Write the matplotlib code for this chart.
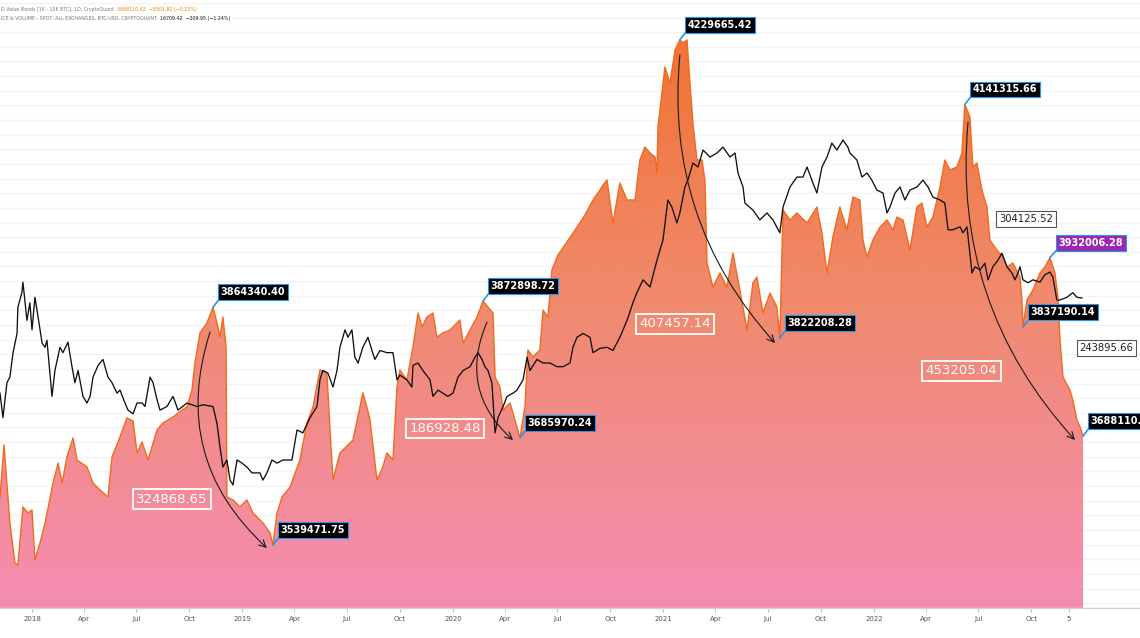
import numpy as np
import matplotlib
matplotlib.use("Agg")
import matplotlib.pyplot as plt
from matplotlib.colors import LinearSegmentedColormap
from matplotlib.ticker import NullLocator

# ---------------- data ----------------
band_years = [2017.848, 2017.867, 2017.895, 2017.919, 2017.933, 2017.957, 2017.981, 2018.000, 2018.014, 2018.038,
              2018.062, 2018.100, 2018.124, 2018.143, 2018.166, 2018.195, 2018.214, 2018.261, 2018.290, 2018.323,
              2018.361, 2018.380, 2018.409, 2018.451, 2018.480, 2018.499, 2018.523, 2018.551, 2018.594, 2018.622,
              2018.670, 2018.713, 2018.736, 2018.760, 2018.774, 2018.798, 2018.831, 2018.860, 2018.879, 2018.893,
              2018.907, 2018.922, 2018.926, 2018.955, 2018.988, 2019.021, 2019.050, 2019.097, 2019.131, 2019.145,
              2019.164, 2019.188, 2019.226, 2019.273, 2019.306, 2019.335, 2019.368, 2019.401, 2019.416, 2019.430,
              2019.463, 2019.525, 2019.572, 2019.591, 2019.606, 2019.639, 2019.667, 2019.686, 2019.715, 2019.734,
              2019.748, 2019.781, 2019.810, 2019.834, 2019.853, 2019.876, 2019.905, 2019.924, 2019.952, 2019.986,
              2020.033, 2020.048, 2020.081, 2020.114, 2020.143, 2020.166, 2020.190, 2020.200, 2020.223, 2020.238,
              2020.271, 2020.304, 2020.318, 2020.342, 2020.356, 2020.380, 2020.413, 2020.428, 2020.451, 2020.470,
              2020.499, 2020.532, 2020.580, 2020.627, 2020.665, 2020.698, 2020.713, 2020.732, 2020.760, 2020.793,
              2020.827, 2020.865, 2020.888, 2020.912, 2020.936, 2020.960, 2020.969, 2020.974, 2021.007, 2021.031,
              2021.055, 2021.078, 2021.093, 2021.112, 2021.126, 2021.140, 2021.159, 2021.183, 2021.197, 2021.207,
              2021.235, 2021.268, 2021.302, 2021.330, 2021.363, 2021.397, 2021.425, 2021.444, 2021.473, 2021.506,
              2021.539, 2021.553, 2021.568, 2021.601, 2021.634, 2021.682, 2021.729, 2021.753, 2021.777, 2021.805,
              2021.838, 2021.872, 2021.900, 2021.933, 2021.948, 2021.967, 2021.995, 2022.029, 2022.062, 2022.090,
              2022.109, 2022.138, 2022.171, 2022.204, 2022.228, 2022.252, 2022.280, 2022.314, 2022.337, 2022.361,
              2022.394, 2022.418, 2022.432, 2022.456, 2022.470, 2022.489, 2022.513, 2022.537, 2022.551, 2022.584,
              2022.613, 2022.632, 2022.660, 2022.694, 2022.703, 2022.708, 2022.727, 2022.755, 2022.789, 2022.812,
              2022.836, 2022.860, 2022.874, 2022.884, 2022.898, 2022.931, 2022.945, 2022.964, 2022.979, 2022.993]

# USD Value Bands [1K - 10K BTC], in thousands
band_values_k = [3605.1, 3676.1, 3569.6, 3514.9, 3512.2, 3591.4, 3583.2, 3587.3, 3519.0, 3542.2,
                 3569.6, 3624.2, 3651.5, 3624.2, 3659.7, 3685.7, 3655.6, 3646.0, 3624.2, 3614.6,
                 3605.1, 3659.7, 3680.2, 3713.0, 3708.9, 3665.2, 3680.2, 3655.6, 3696.6, 3706.2,
                 3714.3, 3723.9, 3728.0, 3751.2, 3788.1, 3829.1, 3842.8, 3864.34, 3842.8, 3823.6,
                 3850.9, 3810.0, 3605.1, 3601.0, 3591.4, 3601.0, 3583.2, 3569.6, 3555.9, 3539.47,
                 3583.2, 3605.1, 3618.7, 3655.6, 3706.2, 3728.0, 3778.6, 3774.5, 3696.6, 3628.3,
                 3665.2, 3682.9, 3747.1, 3728.0, 3710.3, 3628.3, 3646.0, 3665.2, 3655.6, 3755.3,
                 3778.6, 3764.9, 3810.0, 3856.4, 3837.3, 3850.9, 3856.4, 3823.6, 3829.1, 3833.2,
                 3846.9, 3815.4, 3833.2, 3850.9, 3872.90, 3864.6, 3856.4, 3769.0, 3755.3, 3723.9,
                 3733.5, 3700.7, 3685.97, 3728.0, 3805.9, 3796.3, 3805.9, 3860.5, 3850.9, 3915.2,
                 3935.6, 3949.3, 3969.8, 3990.3, 4010.8, 4024.4, 4031.3, 4038.1, 3979.4, 4034.0,
                 4010.8, 4010.8, 4065.4, 4083.2, 4075.0, 4069.5, 4047.7, 4110.5, 4192.5, 4170.6,
                 4215.7, 4229.67, 4225.2, 4229.3, 4170.6, 4116.0, 4065.4, 4065.4, 4038.1, 3924.7,
                 3891.9, 3911.1, 3891.9, 3938.4, 3887.8, 3833.2, 3897.4, 3905.6, 3856.4, 3883.7,
                 3864.6, 3822.21, 3997.1, 3983.5, 3993.0, 3979.4, 4001.2, 3965.7, 3911.1, 3960.2,
                 4001.2, 3969.8, 4014.9, 4010.8, 3956.1, 3932.9, 3956.1, 3973.9, 3983.5, 3969.8,
                 3987.5, 3983.5, 3942.5, 4001.2, 4006.7, 3973.9, 3987.5, 4028.5, 4065.4, 4051.8,
                 4055.8, 4075.0, 4141.32, 4124.1, 4055.8, 4061.3, 4024.4, 4001.2, 3956.1, 3942.5,
                 3932.9, 3919.2, 3924.7, 3905.6, 3874.2, 3837.19, 3874.2, 3887.8, 3911.1, 3919.2,
                 3932.01, 3911.1, 3878.3, 3819.5, 3769.0, 3751.2, 3737.6, 3710.3, 3700.7, 3688.11]

price_years = [2017.848, 2017.862, 2017.881, 2017.895, 2017.910, 2017.929, 2017.933, 2017.952, 2017.957, 2017.976,
               2017.990, 2018.000, 2018.014, 2018.029, 2018.048, 2018.062, 2018.071, 2018.095, 2018.109, 2018.133,
               2018.147, 2018.171, 2018.190, 2018.204, 2018.219, 2018.242, 2018.261, 2018.276, 2018.290, 2018.314,
               2018.337, 2018.361, 2018.380, 2018.404, 2018.418, 2018.442, 2018.456, 2018.480, 2018.499, 2018.523,
               2018.537, 2018.561, 2018.575, 2018.594, 2018.608, 2018.641, 2018.670, 2018.694, 2018.736, 2018.784,
               2018.812, 2018.860, 2018.879, 2018.893, 2018.907, 2018.926, 2018.941, 2018.955, 2018.974, 2018.998,
               2019.021, 2019.045, 2019.083, 2019.097, 2019.116, 2019.140, 2019.164, 2019.192, 2019.235, 2019.259,
               2019.287, 2019.321, 2019.354, 2019.368, 2019.382, 2019.406, 2019.430, 2019.449, 2019.463, 2019.487,
               2019.501, 2019.520, 2019.534, 2019.549, 2019.572, 2019.596, 2019.615, 2019.629, 2019.653, 2019.686,
               2019.715, 2019.734, 2019.748, 2019.781, 2019.805, 2019.810, 2019.834, 2019.857, 2019.891, 2019.905,
               2019.929, 2019.952, 2019.976, 2020.000, 2020.024, 2020.048, 2020.081, 2020.105, 2020.119, 2020.138,
               2020.152, 2020.166, 2020.185, 2020.200, 2020.214, 2020.238, 2020.257, 2020.285, 2020.304, 2020.333,
               2020.352, 2020.366, 2020.399, 2020.428, 2020.461, 2020.494, 2020.523, 2020.556, 2020.570, 2020.589,
               2020.618, 2020.651, 2020.665, 2020.698, 2020.732, 2020.760, 2020.793, 2020.827, 2020.855, 2020.874,
               2020.903, 2020.936, 2020.969, 2020.998, 2021.021, 2021.040, 2021.064, 2021.078, 2021.102, 2021.116,
               2021.140, 2021.164, 2021.188, 2021.221, 2021.254, 2021.283, 2021.316, 2021.340, 2021.354, 2021.378,
               2021.387, 2021.425, 2021.458, 2021.492, 2021.520, 2021.553, 2021.568, 2021.601, 2021.634, 2021.663,
               2021.682, 2021.710, 2021.729, 2021.753, 2021.777, 2021.800, 2021.824, 2021.853, 2021.876, 2021.886,
               2021.919, 2021.943, 2021.967, 2021.990, 2022.014, 2022.043, 2022.062, 2022.076, 2022.100, 2022.124,
               2022.147, 2022.171, 2022.204, 2022.233, 2022.257, 2022.280, 2022.314, 2022.337, 2022.352, 2022.375,
               2022.409, 2022.423, 2022.442, 2022.466, 2022.480, 2022.504, 2022.527, 2022.542, 2022.565, 2022.589,
               2022.608, 2022.632, 2022.656, 2022.670, 2022.684, 2022.694, 2022.708, 2022.732, 2022.755, 2022.789,
               2022.812, 2022.836, 2022.850, 2022.869, 2022.884, 2022.917, 2022.945, 2022.964, 2022.988]

# BTC-USD price
price_usd = [7200, 5800, 7900, 8300, 10300, 12200, 15400, 17500, 19200, 13700,
             16000, 12600, 16800, 14100, 11200, 10800, 11500, 7000, 8800, 10800,
             10300, 11300, 9100, 7900, 8800, 7000, 6600, 7000, 8300, 9200,
             9700, 8300, 7900, 7200, 7400, 6600, 6200, 6000, 6600, 6600,
             6400, 8300, 7900, 6800, 6200, 6400, 7000, 6200, 6600, 6400,
             6500, 6400, 5500, 4480, 3750, 3990, 3340, 3200, 3990, 3880,
             3750, 3560, 3560, 3340, 3560, 3990, 3880, 3990, 3990, 5200,
             5070, 5800, 6400, 8100, 8800, 8600, 7600, 8800, 10800, 12600,
             11800, 12600, 9900, 9400, 10800, 11800, 10500, 9700, 10500, 10300,
             10300, 8100, 8450, 8100, 7600, 9200, 9400, 8800, 8100, 7000,
             7400, 7200, 7000, 7200, 8300, 8800, 9100, 9900, 10300, 9700,
             9100, 8800, 7900, 5070, 5800, 6400, 7000, 7200, 7400, 8100,
             9900, 8800, 9700, 9400, 9400, 9100, 9100, 9400, 10800, 11800,
             12200, 11800, 10300, 10700, 10800, 10500, 11800, 13700, 16000, 17500,
             19600, 18400, 23300, 27900, 39700, 37300, 32400, 35400, 44500, 47300,
             55000, 53100, 61700, 58000, 60100, 63300, 58000, 60100, 50400, 44500,
             38600, 36300, 33300, 35400, 33300, 29700, 37300, 44500, 48600, 48600,
             53100, 46100, 42200, 53100, 58000, 65600, 61700, 67400, 63300, 60100,
             56500, 48600, 50400, 47300, 43300, 42200, 35400, 37300, 42200, 44500,
             39700, 43300, 44500, 47300, 44500, 40700, 39700, 38600, 30500, 30500,
             31300, 29700, 31300, 20800, 22000, 21400, 22700, 19600, 22000, 23300,
             24800, 22000, 20800, 19600, 20800, 22000, 19600, 19100, 19600, 19200,
             20500, 21000, 20100, 16400, 16400, 16800, 17500, 16800, 16700]

tick_years = [2018.0, 2018.247, 2018.496, 2018.748,
              2019.0, 2019.247, 2019.496, 2019.748,
              2020.0, 2020.247, 2020.496, 2020.748,
              2021.0, 2021.247, 2021.496, 2021.748,
              2022.0, 2022.247, 2022.496, 2022.748, 2022.926]
tick_labels = ["2018", "Apr", "Jul", "Oct", "2019", "Apr", "Jul", "Oct",
               "2020", "Apr", "Jul", "Oct", "2021", "Apr", "Jul", "Oct",
               "2022", "Apr", "Jul", "Oct", "5"]

# swing-point callouts (black boxes)
callout_years = [2018.860, 2019.145, 2020.143, 2020.318, 2021.078, 2021.553, 2022.432, 2022.708, 2022.993]
callout_values = [3864340.40, 3539471.75, 3872898.72, 3685970.24, 4229665.42, 3822208.28, 4141315.66,
                  3837190.14, 3688110.62]
purple_year, purple_value = 2022.836, 3932006.28

# drawdown labels (white outline)
drop_labels = ["324868.65", "186928.48", "407457.14", "453205.04"]
drop_years = [2018.665, 2019.962, 2021.055, 2022.416]
drop_values = [3602.3e3, 3698.6e3, 3841.4e3, 3777.2e3]

# curved arrows: start (year, value) -> end (year, value)
arrow_start = [(2018.846, 3830.4e3), (2020.162, 3844.1e3), (2021.078, 4208.8e3), (2022.447, 4117.3e3)]
arrow_end = [(2019.116, 3535.4e3), (2020.285, 3682.9e3), (2021.530, 3815.4e3), (2022.955, 3682.9e3)]
arrow_rad = [0.32, 0.36, 0.22, 0.22]

# boxed side labels
side_labels = ["304125.52", "243895.66"]
side_years = [2022.722, 2023.105]
side_values = [3984.8e3, 3808.6e3]

# ---------------- figure ----------------
W, H = 1140, 638
fig = plt.figure(figsize=(W / 100, H / 100), dpi=100)
fig.patch.set_facecolor("white")
ax = fig.add_axes([0, 30 / H, 1, 608 / H])

XMIN, XMAX = 2017.848, 2023.264
YMIN, YMAX = 3453.4e3, 4284.0e3

bx = np.array(band_years)
by = np.array(band_values_k) * 1000.0

# horizontal grid
for g in np.arange(3460e3, 4300e3, 20e3):
    ax.axhline(g, color="#f0f3fa", lw=0.9, zorder=0)

# gradient area
poly = ax.fill_between(bx, by, YMIN, facecolor="none", edgecolor="none", zorder=1)
cmap = LinearSegmentedColormap.from_list("band", ["#f0702c", "#f08a6e", "#f58db3"])
grad = np.linspace(0, 1, 512).reshape(-1, 1)
im = ax.imshow(grad, extent=[XMIN, XMAX, YMIN, YMAX], aspect="auto", cmap=cmap,
               origin="upper", zorder=1, interpolation="bilinear")
im.set_clip_path(poly.get_paths()[0], transform=ax.transData)
ax.plot(bx, by, color="#f26a1b", lw=1.0, zorder=2)

ax.set_xlim(XMIN, XMAX)
ax.set_ylim(YMIN, YMAX)

# price line on twin log axis
ax2 = ax.twinx()
ax2.set_yscale("log")
ax2.set_ylim(1079, 232300)
ax2.plot(price_years, price_usd, color="#111111", lw=0.95, zorder=3)
ax2.yaxis.set_minor_locator(NullLocator())
ax2.set_yticks([])
ax2.tick_params(axis="y", which="both", right=False, labelright=False, left=False, labelleft=False)
for s in ax2.spines.values():
    s.set_visible(False)
ax2.set_xlim(XMIN, XMAX)

# axis styling (after twinx, which resets left ticks)
ax.set_yticks([])
ax.tick_params(axis="y", which="both", left=False, labelleft=False, right=False)
for s in ["top", "left", "right"]:
    ax.spines[s].set_visible(False)
ax.spines["bottom"].set_color("#d1d4dc")
ax.spines["bottom"].set_linewidth(1.0)
ax.set_xticks(tick_years)
ax.set_xticklabels(tick_labels)
ax.tick_params(axis="x", labelsize=5, labelcolor="#50535e", color="#b2b5be", length=3, width=0.6, pad=3)

# curved arrows
for (sx, sy), (ex, ey), rad in zip(arrow_start, arrow_end, arrow_rad):
    ax2.annotate("", xy=(ex, ey), xytext=(sx, sy), xycoords=ax.transData, textcoords=ax.transData,
                 arrowprops=dict(arrowstyle="->,head_length=0.5,head_width=0.25", color="#1a1a1a", lw=0.8,
                                 connectionstyle=f"arc3,rad={rad}", shrinkA=0, shrinkB=0),
                 zorder=4)

# black callouts
for yr, v in zip(callout_years, callout_values):
    ax2.annotate(f"{v:.2f}", xy=(yr, v), xycoords=ax.transData, xytext=(40, 15), textcoords="offset pixels",
                 ha="center", va="center", fontsize=7, fontweight="bold", color="white",
                 bbox=dict(boxstyle="square,pad=0.3", fc="black", ec="#2196f3", lw=0.8),
                 arrowprops=dict(arrowstyle="-", color="#2196f3", lw=1.2, relpos=(0, 0), shrinkA=0, shrinkB=0),
                 zorder=6, annotation_clip=False)

# purple callout
ax2.annotate(f"{purple_value:.2f}", xy=(purple_year, purple_value), xycoords=ax.transData, xytext=(41, 15),
             textcoords="offset pixels", ha="center", va="center", fontsize=7, fontweight="bold", color="white",
             bbox=dict(boxstyle="square,pad=0.3", fc="#9c27b0", ec="#2196f3", lw=0.8),
             arrowprops=dict(arrowstyle="-", color="#2196f3", lw=1.2, relpos=(0, 0), shrinkA=0, shrinkB=0),
             zorder=6)

# drawdown labels
for s, yr, v in zip(drop_labels, drop_years, drop_values):
    ax2.text(yr, v, s, transform=ax.transData, ha="center", va="center", fontsize=9.5, color="white",
             fontweight="medium",
             bbox=dict(boxstyle="square,pad=0.25", fc="none", ec="white", lw=1.3), zorder=5)

# side labels
for s, yr, v in zip(side_labels, side_years, side_values):
    ax2.text(yr, v, s, transform=ax.transData, ha="center", va="center", fontsize=7.2, color="#1e1e1e",
             bbox=dict(boxstyle="square,pad=0.3", fc="white", ec="#555555", lw=0.8), zorder=5)

# header legend text (chained so pieces never overlap)
fs = 3.45
renderer = fig.canvas.get_renderer()
header_rows = [
    (1 - 10 / H, [("D Value Bands [1K - 10K BTC], 1D, CryptoQuant", "#787b86"),
                  ("3688110.62  \u22128301.82 (\u22120.22%)", "#f57c00")]),
    (1 - 18.5 / H, [("ICE & VOLUME - SPOT, ALL EXCHANGES, BTC-USD, CRYPTOQUANT", "#787b86"),
                    ("16709.42  \u2212209.95 (\u22121.24%)", "#131722")]),
]
for ypos, pieces in header_rows:
    xpos = 1 / W
    for txt, col in pieces:
        t = fig.text(xpos, ypos, txt, fontsize=fs, color=col, ha="left", va="center")
        bb = t.get_window_extent(renderer=renderer)
        xpos = (bb.x1 + 3) / W

fig.savefig("out.png", dpi=100)
